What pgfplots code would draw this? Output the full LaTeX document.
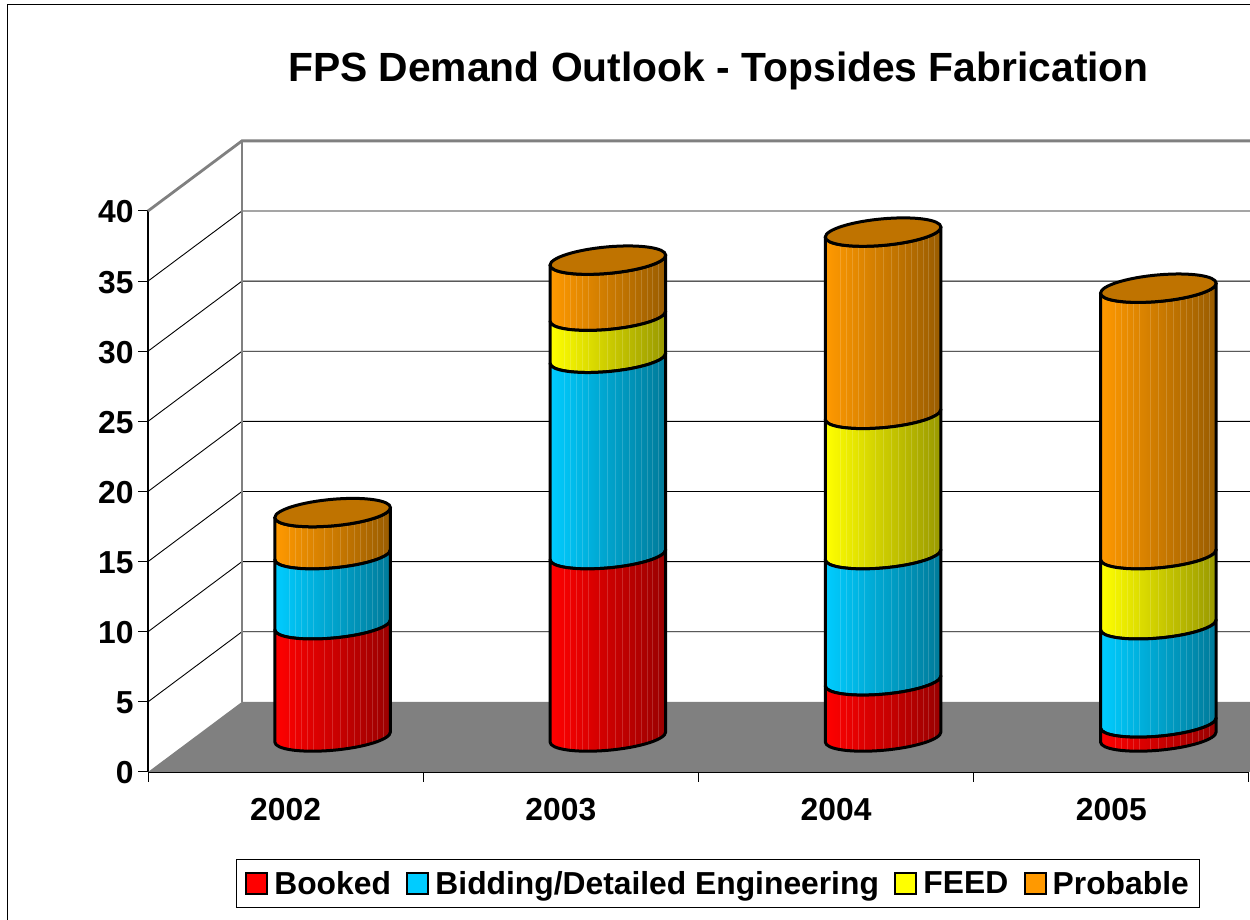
\documentclass[border=0pt]{standalone}
\usepackage{fontspec}
\setmainfont{Liberation Sans}
\usepackage{pgfplots}
\usepackage{pgfplotstable}
\pgfplotsset{compat=1.18}
\pgfplotstableread{
x   booked bidding feed probable
0.5 8      5       0    3
1.5 13     14      3    4
2.5 4      9       10   13
3.5 1      7       5    19
}\demand
\definecolor{frontgray}{HTML}{808080}
\definecolor{redL}{HTML}{FF0000}\definecolor{redR}{HTML}{990000}
\definecolor{bluL}{HTML}{00CCFF}\definecolor{bluR}{HTML}{007A99}
\definecolor{yelL}{HTML}{FFFF00}\definecolor{yelR}{HTML}{999900}
\definecolor{oraL}{HTML}{FF9900}\definecolor{oraR}{HTML}{995C00}
\definecolor{oraT}{HTML}{BF7300}
\pgfdeclareplotmark{nil}{}
\newdimen\segdim
\newcommand\lowy[1]{\the\dimexpr#1pt-\segdim\relax}
% one segment of a cylinder, drawn downward from the stacked value
\newcommand\cylseg[2]{%
  \segdim=\segh\dimexpr14.025pt\relax
  \ifdim\segdim>0pt
    \edef\ya{\lowy{5}}\edef\yb{\lowy{-2.35}}\edef\yc{\lowy{-10.54}}\edef\yd{\lowy{-13.3}}%
    \edef\ye{\lowy{-16.06}}\edef\yf{\lowy{-12.35}}\edef\yg{\lowy{-5}}\edef\yh{\lowy{-20}}%
    \def\segpath{(-57.8pt,-5pt) .. controls (-57.8pt,-12.35pt) and (-31.9pt,-16.06pt) .. (0pt,-13.3pt)
      .. controls (31.9pt,-10.54pt) and (57.8pt,-2.35pt) .. (57.8pt,5pt)
      -- (57.8pt,\ya)
      .. controls (57.8pt,\yb) and (31.9pt,\yc) .. (0pt,\yd)
      .. controls (-31.9pt,\ye) and (-57.8pt,\yf) .. (-57.8pt,\yg) -- cycle}%
    \begin{scope}
      \clip \segpath;
      \shade[left color=#1,right color=#2] \segpath;
      \foreach \sx in {-43,-37,-31,-25,-19,-8,0,8,15,22,28,34,40,45,51}{
        \draw[white,opacity=.16,line width=.8pt] (\sx pt,20pt) -- (\sx pt,\yh);
      }
    \end{scope}
    \draw[line width=3pt,line join=round] \segpath;
  \fi
}
\newcommand\cylcap{%
  \filldraw[fill=oraT,draw=black,line width=3pt]
    (-57.8pt,-5pt) .. controls (-57.8pt,-12.35pt) and (-31.9pt,-16.06pt) .. (0pt,-13.3pt)
      .. controls (31.9pt,-10.54pt) and (57.8pt,-2.35pt) .. (57.8pt,5pt)
      .. controls (57.8pt,12.35pt) and (31.9pt,16.06pt) .. (0pt,13.3pt)
      .. controls (-31.9pt,10.54pt) and (-57.8pt,2.35pt) .. (-57.8pt,-5pt) -- cycle;
}
\pgfplotsset{
  seg/.style n args={3}{
    scatter, only marks, mark=nil,
    visualization depends on={\thisrow{#1} \as \segh},
    scatter/@pre marker code/.code={\cylseg{#2}{#3}},
    scatter/@post marker code/.code={},
  },
  swatch/.style={legend image code/.code={
    \draw[fill=#1,draw=black,line width=2.2pt] (0pt,-10.5pt) rectangle (21pt,10.5pt);}},
}
\newcommand\bigb{\bfseries\fontsize{31.8}{36}\selectfont}
\newcommand\lt[1]{\hspace{4pt}\vphantom{Bg}#1}
\begin{document}
\begin{tikzpicture}[x=1pt,y=1pt]
\useasboundingbox (0,0) rectangle (1250,920);
\clip (0,0) rectangle (1250,920);
\fill[white] (0,0) rectangle (1250,920);
\draw[black,line width=1.4pt] (7.5,0) -- (7.5,915.5) -- (1250,915.5);
\node[font=\bfseries\fontsize{40.8}{46}\selectfont,anchor=center] at (718.5,849.5) {FPS Demand Outlook - Topsides Fabrication};
% frame: walls, floor, axes, legend
\begin{axis}[
  at={(148pt,148pt)},anchor=south west,scale only axis,
  width=1101pt,height=561pt,
  xmin=0,xmax=4,ymin=0,ymax=40,clip=false,
  axis x line*=bottom,axis y line*=left,axis line style={-,black,line width=1.2pt},
  xtick={0,1,2,3,4},xticklabels={2002,2003,2004,2005},x tick label as interval,
  ytick={0,5,...,40},
  tick align=outside,major tick length=10pt,
  tick style={black,line width=1pt},
  /pgf/number format/assume math mode=true,
  tick label style={font=\bigb},
  yticklabel style={xshift=-1pt,yshift=-1pt},
  xticklabel style={yshift=-13pt},
  legend columns=4,
  legend cell align=left,
  legend style={at={(0.5177,-0.1985)},anchor=center,draw=black,line width=1.2pt,font=\bigb,
    inner xsep=9pt,inner ysep=9.5pt,
    /tikz/every even column/.append style={column sep=13.3pt},
    /tikz/every odd column/.append style={column sep=0pt},
    },
]
\addplot[fill=frontgray,draw=none,forget plot] coordinates {(0,0)(0.3415,5)(4.01,5)(4.01,0)} -- cycle;
\foreach \v in {5,10,...,35}{
  \edef\tmp{\noexpand\addplot[black,line width=.9pt,forget plot] coordinates {(0,\v)(0.3415,\the\numexpr\v+5\relax)(4.01,\the\numexpr\v+5\relax)};}
  \tmp
}
\addplot[frontgray,line width=2.8pt,forget plot] coordinates {(0,40)(0.3415,45)(4.01,45)};
\addplot[frontgray,line width=2.8pt,forget plot] coordinates {(0.3415,45)(0.3415,5)};
\addlegendimage{swatch=redL}\addlegendentry{\lt{Booked}}
\addlegendimage{swatch=bluL}\addlegendentry{\lt{Bidding/Detailed Engineering}}
\addlegendimage{swatch=yelL}\addlegendentry{\lt{FEED}}
\addlegendimage{swatch=oraL}\addlegendentry{\lt{Probable}}
\end{axis}
% cylinders, set back half the depth of the floor
\begin{axis}[
  at={(195pt,183pt)},anchor=south west,scale only axis,
  width=1101pt,height=561pt,
  xmin=0,xmax=4,ymin=0,ymax=40,clip=false,hide axis,
  stack plots=y,
]
\addplot[seg={booked}{redL}{redR}] table[x=x,y=booked] {\demand};
\addplot[seg={bidding}{bluL}{bluR}] table[x=x,y=bidding] {\demand};
\addplot[seg={feed}{yelL}{yelR}] table[x=x,y=feed] {\demand};
\addplot[seg={probable}{oraL}{oraR},scatter/@post marker code/.code={\cylcap}] table[x=x,y=probable] {\demand};
\end{axis}
\end{tikzpicture}
\end{document}
